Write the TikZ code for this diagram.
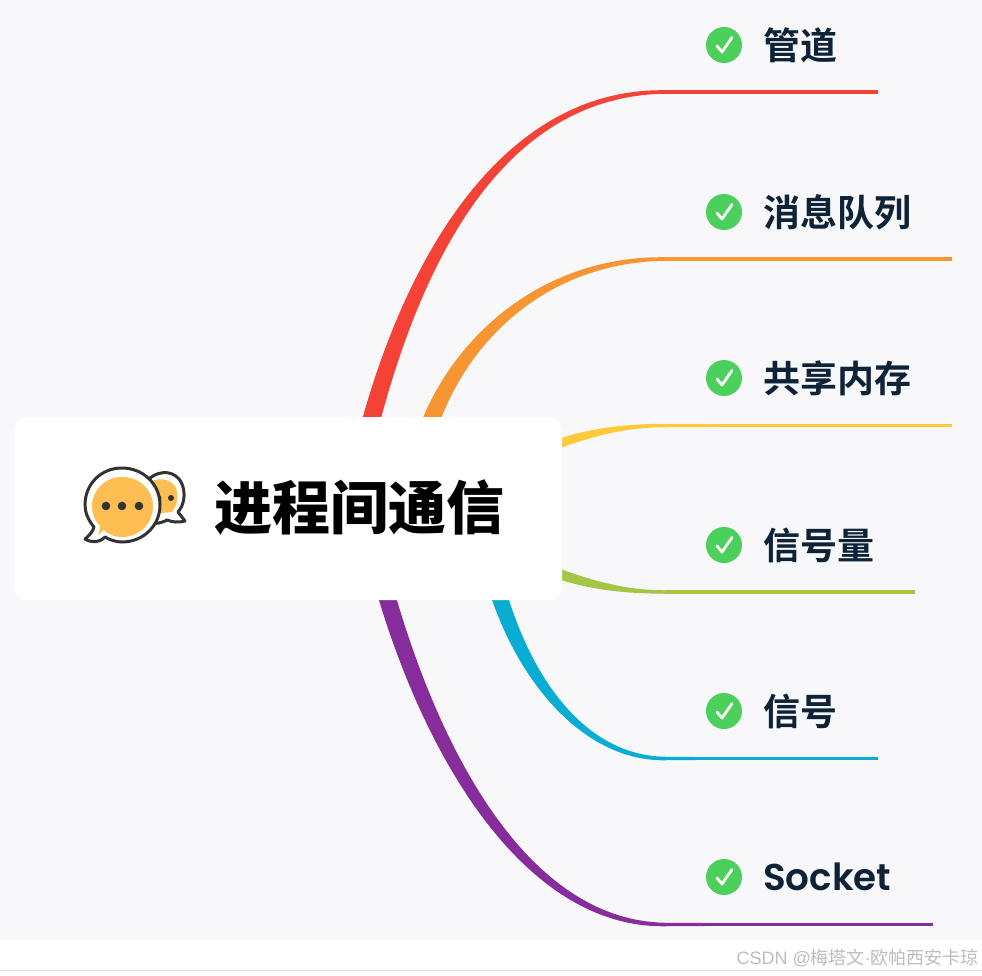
\documentclass[tikz,border=0pt]{standalone}
\usepackage{fontspec}
\newfontfamily\cjkbold{Noto Sans CJK SC Bold}
\newfontfamily\cjkblack{Noto Sans CJK SC Black}
\newfontfamily\cjkreg{Noto Sans CJK SC}
\newfontfamily\latinbold{Poppins SemiBold}
\newfontfamily\wmlatin{Liberation Sans}
\definecolor{bgpage}{HTML}{F8F8FA}
\definecolor{ink}{HTML}{0E2238}
\definecolor{okgreen}{HTML}{4CD05C}
\definecolor{bubble}{HTML}{FDBE52}
\definecolor{bubbleline}{HTML}{333333}
\definecolor{cred}{HTML}{F44336}
\definecolor{corange}{HTML}{F79532}
\definecolor{cyellow}{HTML}{FFC93C}
\definecolor{cgreen}{HTML}{A4C545}
\definecolor{ccyan}{HTML}{09ADD3}
\definecolor{cpurple}{HTML}{872D9B}
\newcommand{\branch}[8]{%
 \fill[#1] #3 .. controls #4 and #5 .. (#2a) -- (#2z) -- (#2b) .. controls #8 and #7 .. #6 -- cycle;
 \draw[#1,line width=3.5pt] (#2a|-#2z) -- (#2z);
}
\newcommand{\okmark}[1]{%
 \node[okdot] (#1dot) at (#1pos) {};
 \draw[white,line width=2.8pt,line cap=round,line join=round] ([shift={(-7,1)}]#1dot.center) -- ([shift={(-2,7)}]#1dot.center) -- ([shift={(8,-7.5)}]#1dot.center);
}
\tikzset{
 okdot/.style={circle,fill=okgreen,minimum size=36pt,inner sep=0pt},
 leaf/.style={anchor=west,inner sep=0pt,text=ink,font=\fontsize{37pt}{38pt}\cjkbold},
 rootbox/.style={fill=white,rounded corners=13pt,inner sep=0pt,minimum width=548pt,minimum height=183pt},
 bubbleedge/.style={draw=bubbleline,line width=3pt,line join=round,fill=white},
}
\begin{document}
\begin{tikzpicture}[x=1pt,y=-1pt]
\useasboundingbox (0,0) rectangle (982,976);
\fill[white] (0,0) rectangle (982,976);
\fill[bgpage] (0,0) rectangle (982,940);
\draw[black!12,line width=1pt] (0,970.5) -- (982,970.5);

\coordinate (Aa) at (665,90.25); \coordinate (Ab) at (665,93.75); \coordinate (Az) at (878,92);
\coordinate (Ba) at (665,257.25); \coordinate (Bb) at (665,260.75); \coordinate (Bz) at (952,259);
\coordinate (Ca) at (665,423.75); \coordinate (Cb) at (665,427.25); \coordinate (Cz) at (952,425.5);
\coordinate (Da) at (665,590.25); \coordinate (Db) at (665,593.75); \coordinate (Dz) at (915,592);
\coordinate (Ea) at (665,756.75); \coordinate (Eb) at (665,760.25); \coordinate (Ez) at (878,758.5);
\coordinate (Fa) at (665,922.75); \coordinate (Fb) at (665,926.25); \coordinate (Fz) at (933,924.5);

\branch{cred}{A}{(362,420)}{(414.3,233)}{(515,88)}{(380.5,420)}{(429.7,237)}{(515,96)}
\branch{corange}{B}{(422,420)}{(459,329.2)}{(549,255.5)}{(440.5,420)}{(473,334.8)}{(551,262.5)}
\branch{cyellow}{C}{(555,440)}{(590,428)}{(625,424)}{(555,450)}{(590,437)}{(625,427)}
\branch{cgreen}{D}{(555,567)}{(590,580)}{(625,590.5)}{(555,578)}{(590,590)}{(625,593.5)}
\branch{ccyan}{E}{(508,597)}{(536.6,687.8)}{(590,755.5)}{(491,597)}{(523.4,692.2)}{(590,761.5)}
\branch{cpurple}{F}{(396,597)}{(447.7,772.7)}{(537,920.5)}{(378,597)}{(432.3,777.3)}{(533,928)}

\node[rootbox] (root) at (288,508.5) {};
\node[anchor=west,inner sep=0pt,font=\fontsize{58pt}{60pt}\cjkblack,text=black] (title) at (214,507) {进程间通信};

% icon: back bubble
\draw[bubbleedge] (185,521) .. controls (178,523) and (172,522) .. (167,520) .. controls (160,524) and (150,525) .. (143,520) -- (150,478) .. controls (160,470) and (176,470) .. (182,484) .. controls (186,494) and (184,505) .. (178,512) -- cycle;
\fill[bubble] (152,481) .. controls (162,477) and (172,480) .. (176,488) .. controls (179,497) and (177,506) .. (172,512) -- (150,514) -- cycle;
\fill[bubbleline] (159,498) circle (2.5pt) (171,498) circle (3pt);
% icon: front bubble
\draw[bubbleedge] (85,539) .. controls (90,535) and (93,531) .. (94,527) .. controls (88,520) and (85,512) .. (85,505) .. controls (85,484) and (101,468) .. (122,468) .. controls (143,468) and (160,484) .. (160,505) .. controls (160,526) and (143,542) .. (122,542) .. controls (116,542) and (110,540) .. (105,537) .. controls (99,543) and (92,543) .. (85,539) -- cycle;
\fill[bubble] (98,535) -- (104,530) .. controls (109,535) and (116,537) .. (122,537) .. controls (140,537) and (153,523) .. (153,506) .. controls (153,490) and (140,477) .. (122,477) .. controls (105,477) and (92,490) .. (92,506) .. controls (92,514) and (95,521) .. (100,526) .. controls (100,530) and (99,533) .. (98,535) -- cycle;
\fill[bubbleline] (106,506) circle (4.3pt) (122,506) circle (4.3pt) (139,506) circle (4.3pt);

\coordinate (Apos) at (724,45); \coordinate (Bpos) at (724,212); \coordinate (Cpos) at (724,378);
\coordinate (Dpos) at (724,545); \coordinate (Epos) at (724,711); \coordinate (Fpos) at (724,877);
\okmark{A}\okmark{B}\okmark{C}\okmark{D}\okmark{E}\okmark{F}

\node[leaf] (la) at (763,45) {管道};
\node[leaf] (lb) at (763,212) {消息队列};
\node[leaf] (lc) at (763,378) {共享内存};
\node[leaf] (ld) at (763,545) {信号量};
\node[leaf] (le) at (763,711) {信号};
\node[leaf,font=\fontsize{37.3pt}{38pt}\latinbold] (lf) at (763,877) {Socket};

\node[anchor=east,inner sep=0pt,text=black!26,font=\fontsize{18pt}{20pt}\cjkreg] (wm) at (979,958) {{\wmlatin CSDN @}梅塔文{\wmlatin ·}欧帕西安卡琼};
\end{tikzpicture}
\end{document}
